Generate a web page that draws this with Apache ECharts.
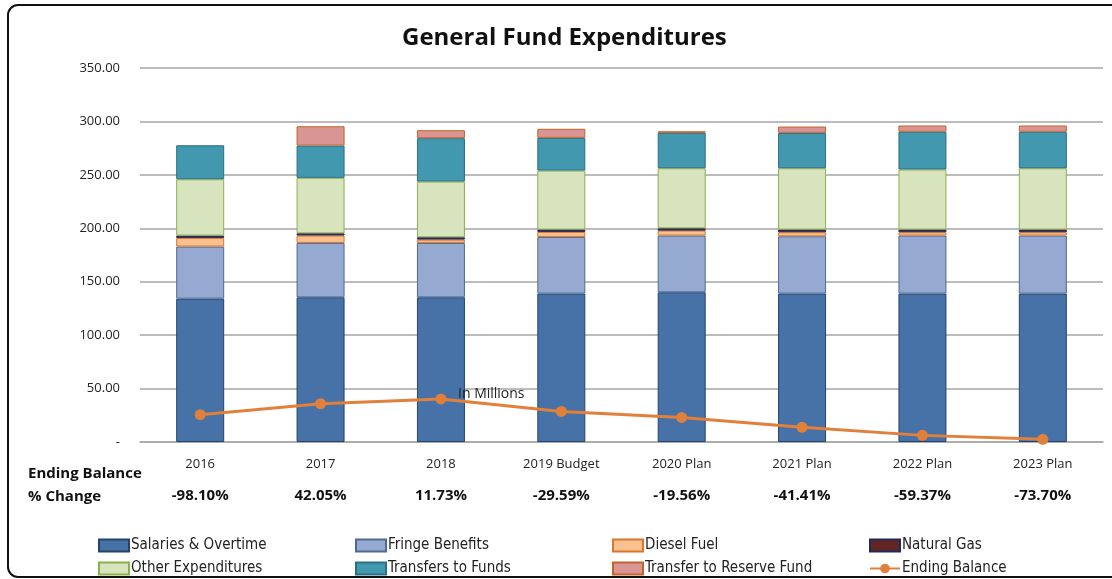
<!DOCTYPE html>
<html>
<head>
<meta charset="utf-8">
<script src="https://cdn.jsdelivr.net/npm/echarts@6/dist/echarts.min.js"></script>
<style>
  html, body { margin: 0; padding: 0; background: #fff; }
  #main { width: 1112px; height: 579px; }
</style>
</head>
<body>
<div id="main"></div>
<script>
// categories and values (in millions)
const years = ['2016', '2017', '2018', '2019 Budget', '2020 Plan', '2021 Plan', '2022 Plan', '2023 Plan'];
const salaries = [134.2, 135.4, 135.4, 138.9, 140.1, 138.9, 138.9, 138.9];
const fringe = [48.7, 50.9, 50.9, 53.0, 53.1, 53.6, 54.3, 54.3];
const diesel = [8.1, 6.9, 3.1, 4.7, 4.6, 3.8, 3.1, 3.1];
const naturalGas = [2.2, 2.1, 2.2, 2.2, 2.2, 2.5, 2.5, 2.5];
const otherExp = [52.7, 51.9, 52.1, 55.2, 56.2, 57.4, 56.2, 57.4];
const transfers = [31.8, 30.2, 40.6, 30.6, 33.1, 33.1, 35.3, 34.1];
const reserve = [0, 18.1, 7.5, 8.5, 1.5, 5.9, 5.9, 5.9];
const endingBalance = [25.6, 35.8, 40.3, 28.6, 23.0, 13.8, 6.2, 2.5];
const pctChange = ['-98.10%', '42.05%', '11.73%', '-29.59%', '-19.56%', '-41.41%', '-59.37%', '-73.70%'];

const font = '"Open Sans", "Noto Sans", sans-serif';
const narrow = '"Liberation Sans Narrow", "DejaVu Sans Condensed", "Liberation Sans", sans-serif';

const barDefs = [
  { name: 'Salaries & Overtime', data: salaries, color: '#4672A8', border: '#25446B' },
  { name: 'Fringe Benefits', data: fringe, color: '#96A9D0', border: '#4F6A92' },
  { name: 'Diesel Fuel', data: diesel, color: '#FAC08F', border: '#D8762C' },
  { name: 'Natural Gas', data: naturalGas, color: '#632523', border: '#1F2A5C' },
  { name: 'Other Expenditures', data: otherExp, color: '#D8E4BD', border: '#8EAF4F' },
  { name: 'Transfers to Funds', data: transfers, color: '#4198AF', border: '#2D6E82' },
  { name: 'Transfer to Reserve Fund', data: reserve, color: '#D99594', border: '#C0642A' }
];

const series = barDefs.map(d => ({
  name: d.name,
  type: 'bar',
  stack: 'total',
  barWidth: 48,
  // zero segments are skipped so no empty outline is drawn
  data: d.data.map(v => (v === 0 ? '-' : v)),
  itemStyle: { color: d.color, borderColor: d.border, borderWidth: 1 },
  emphasis: { disabled: true }
}));
series.push({
  name: 'Ending Balance',
  type: 'line',
  data: endingBalance,
  symbol: 'circle',
  symbolSize: 11,
  lineStyle: { color: '#E0803A', width: 3 },
  itemStyle: { color: '#E0803A' },
  z: 5
});

// one legend per entry so the columns line up like the original
const legendNames = barDefs.map(d => d.name).concat(['Ending Balance']);
const colX = [98, 355, 612, 869];
const rowY = [538, 561];
const legends = legendNames.map((n, i) => ({
  left: colX[i % 4],
  top: rowY[Math.floor(i / 4)],
  padding: 0,
  data: [n === 'Ending Balance' ? n : { name: n, icon: 'rect' }],
  itemWidth: 30,
  itemHeight: 12,
  itemGap: 2,
  textStyle: { fontFamily: narrow, fontSize: 15, color: '#222', padding: [0, 0, 0, -3] },
  selectedMode: false
}));

const chart = echarts.init(document.getElementById('main'));
chart.setOption({
  animation: false,
  color: barDefs.map(d => d.color).concat(['#E0803A']),
  title: {
    text: 'General Fund Expenditures',
    left: 397,
    top: 21,
    textStyle: { fontFamily: font, fontSize: 24, fontWeight: 'bold', color: '#111' }
  },
  legend: legends,
  grid: { left: 140, right: 9, top: 68, bottom: 137 },
  xAxis: {
    type: 'category',
    data: years,
    axisTick: { show: false },
    axisLine: { lineStyle: { color: '#A6A6A6', width: 1.5 } },
    axisLabel: {
      margin: 13,
      interval: 0,
      formatter: (v, i) => '{y|' + v + '}\n{p|' + pctChange[i] + '}',
      rich: {
        y: { fontFamily: font, fontSize: 13, color: '#222', lineHeight: 18 },
        p: { fontFamily: font, fontSize: 15, fontWeight: 'bold', color: '#111', lineHeight: 46 }
      }
    }
  },
  yAxis: {
    type: 'value',
    min: 0,
    max: 350,
    interval: 50,
    axisLine: { show: false },
    axisTick: { show: false },
    splitLine: { lineStyle: { color: '#A6A6A6', width: 1.5 } },
    axisLabel: {
      margin: 20,
      fontFamily: font,
      fontSize: 13,
      color: '#222',
      formatter: v => (v === 0 ? '-' : v.toFixed(2))
    }
  },
  series: series,
  graphic: [
    {
      type: 'rect',
      shape: { x: 8, y: 5, width: 1120, height: 572, r: 10 },
      style: { fill: 'none', stroke: '#111', lineWidth: 2 },
      silent: true
    },
    {
      type: 'text', left: 28, top: 466,
      style: { text: 'Ending Balance', font: 'bold 15px ' + font, fill: '#111' }
    },
    {
      type: 'text', left: 28, top: 489,
      style: { text: '% Change', font: 'bold 15px ' + font, fill: '#111' }
    },
    {
      type: 'text', left: 458, top: 387, z: 10,
      style: { text: 'In Millions', font: '14px ' + font, fill: '#222' }
    }
  ]
});
</script>
</body>
</html>
